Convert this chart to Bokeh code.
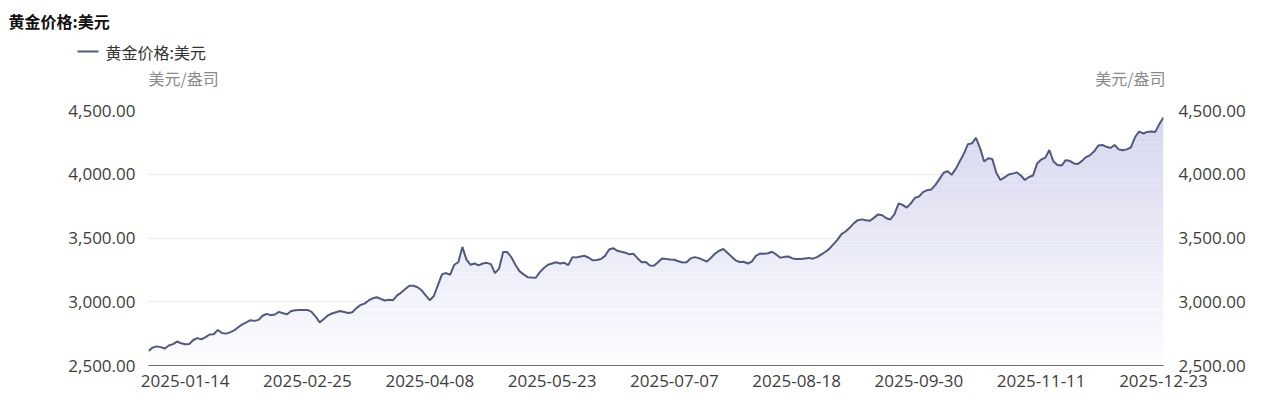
import numpy as np
from bokeh.plotting import figure
from bokeh.layouts import column
from bokeh.models import Range1d, LinearAxis, FixedTicker, NumeralTickFormatter
from bokeh.core.properties import value
from bokeh.embed import file_html
from bokeh.resources import INLINE

title_text = "黄金价格:美元"
series_name = "黄金价格:美元"
unit_text = "美元/盎司"
x_tick_labels = ["2025-01-14", "2025-02-25", "2025-04-08", "2025-05-23", "2025-07-07",
                 "2025-08-18", "2025-09-30", "2025-11-11", "2025-12-23"]
y_ticks = [2500, 3000, 3500, 4000, 4500]

prices = [
    2615, 2640, 2650, 2644, 2633, 2657, 2668, 2688, 2674, 2667,
    2668, 2700, 2715, 2705, 2722, 2743, 2745, 2779, 2755, 2750,
    2760, 2775, 2800, 2822, 2838, 2855, 2850, 2858, 2890, 2905,
    2895, 2900, 2921, 2910, 2902, 2927, 2933, 2936, 2935, 2936,
    2920, 2884, 2838, 2865, 2893, 2908, 2918, 2927, 2920, 2912,
    2918, 2950, 2975, 2985, 3010, 3027, 3035, 3022, 3010, 3015,
    3012, 3050, 3072, 3100, 3125, 3125, 3114, 3090, 3050, 3012,
    3045, 3130, 3215, 3225, 3212, 3290, 3310, 3430, 3330, 3290,
    3300, 3285, 3300, 3305, 3295, 3225, 3260, 3390, 3390, 3350,
    3290, 3240, 3215, 3193, 3190, 3188, 3232, 3265, 3290, 3300,
    3310, 3300, 3305, 3288, 3350, 3348, 3355, 3360, 3345, 3325,
    3328, 3335, 3360, 3410, 3420, 3400, 3392, 3385, 3372, 3376,
    3340, 3310, 3312, 3285, 3283, 3310, 3340, 3335, 3331, 3329,
    3318, 3308, 3310, 3340, 3350, 3342, 3328, 3316, 3345, 3378,
    3400, 3414, 3385, 3355, 3325, 3312, 3314, 3300, 3315, 3360,
    3378, 3376, 3380, 3392, 3370, 3345, 3352, 3355, 3340, 3336,
    3336, 3340, 3344, 3338, 3350, 3370, 3390, 3415, 3450, 3485,
    3530, 3551, 3580, 3615, 3640, 3646, 3640, 3635, 3660, 3685,
    3678, 3655, 3645, 3688, 3770, 3760, 3738, 3770, 3815, 3825,
    3860, 3875, 3880, 3915, 3960, 4010, 4025, 3995, 4040, 4100,
    4160, 4235, 4242, 4285, 4205, 4100, 4125, 4120, 4010, 3955,
    3975, 3998, 4005, 4015, 3990, 3955, 3978, 3990, 4085, 4115,
    4130, 4190, 4100, 4072, 4068, 4110, 4105, 4085, 4080, 4105,
    4135, 4150, 4180, 4225, 4230, 4215, 4206, 4230, 4195, 4188,
    4195, 4210, 4290, 4335, 4320, 4332, 4336, 4332, 4395, 4445,
]

n = len(prices)
xs = np.arange(n)
p_arr = np.array(prices, dtype=float)

LINE = "#53587f"
FONT_CJK = "Noto Sans CJK SC"
FONT_NUM = "Open Sans"
W = 1265

# ---------- header (title, legend, unit labels) ----------
HH = 98
h = figure(width=W, height=HH, output_backend="svg", toolbar_location=None,
           x_range=Range1d(0, W), y_range=Range1d(HH, 0),
           x_axis_type=None, y_axis_type=None, min_border=0)
h.frame_align = False
h.outline_line_color = None
h.xgrid.visible = False
h.ygrid.visible = False
h.text(x=[8], y=[20], text=[title_text], text_font=value(FONT_CJK), text_font_size="16px",
       text_font_style="bold", text_color="#111111", text_baseline="middle", text_align="left")
h.segment(x0=[77], y0=[51], x1=[98], y1=[51], line_color=LINE, line_width=2)
h.text(x=[105], y=[51], text=[series_name], text_font=value(FONT_CJK), text_font_size="16px",
       text_color="#333333", text_baseline="middle", text_align="left")
h.text(x=[148], y=[77], text=[unit_text], text_font=value(FONT_CJK), text_font_size="16px",
       text_color="#8a8a8a", text_baseline="middle", text_align="left")
h.text(x=[1165], y=[77], text=[unit_text], text_font=value(FONT_CJK), text_font_size="16px",
       text_color="#8a8a8a", text_baseline="middle", text_align="right")

# ---------- main chart ----------
p = figure(width=W, height=302, output_backend="svg", toolbar_location=None,
           x_range=Range1d(0, n - 1), y_range=Range1d(2500, 4500),
           min_border_left=148, min_border_right=W - 1163, min_border_top=12, min_border_bottom=35)
p.frame_align = False
p.outline_line_color = None

# gradient-like area fill (bands)
nb = 40
levels = np.linspace(2500, p_arr.max(), nb + 1)
top_c = np.array([214, 215, 239])
bot_c = np.array([253, 253, 255])
for k in range(nb):
    t = (k + 0.5) / nb
    c = (bot_c + (top_c - bot_c) * t).astype(int)
    col = "#%02x%02x%02x" % tuple(c)
    y1 = np.minimum(p_arr, levels[k])
    y2 = np.minimum(p_arr, levels[k + 1])
    p.varea(x=xs, y1=y1, y2=y2, fill_color=col, fill_alpha=1.0)

p.line(xs, p_arr, line_color=LINE, line_width=2)


def style_axis(ax, standoff):
    ax.major_tick_line_color = None
    ax.minor_tick_line_color = None
    ax.major_tick_out = 0
    ax.major_tick_in = 0
    ax.minor_tick_out = 0
    ax.minor_tick_in = 0
    ax.major_label_text_font = FONT_NUM
    ax.major_label_text_font_size = "17px"
    ax.major_label_text_color = "#3d3d3d"
    ax.major_label_standoff = standoff


p.xaxis.ticker = FixedTicker(ticks=[9 + 30 * k for k in range(len(x_tick_labels))])
p.xaxis.major_label_overrides = {9 + 30 * k: lab for k, lab in enumerate(x_tick_labels)}
p.xaxis.axis_line_color = "#6e7079"
style_axis(p.xaxis[0], 9)

p.yaxis.ticker = FixedTicker(ticks=y_ticks)
p.yaxis.formatter = NumeralTickFormatter(format="0,0.00")
p.yaxis.axis_line_color = None
style_axis(p.yaxis[0], 13)

ry = LinearAxis(ticker=FixedTicker(ticks=y_ticks), formatter=NumeralTickFormatter(format="0,0.00"))
ry.axis_line_color = None
style_axis(ry, 15)
p.add_layout(ry, "right")

p.xgrid.grid_line_color = None
p.ygrid.ticker = FixedTicker(ticks=y_ticks)
p.ygrid.grid_line_color = "#eaecf1"

layout = column(h, p, spacing=0)
open("out.html", "w").write(file_html(layout, INLINE))
